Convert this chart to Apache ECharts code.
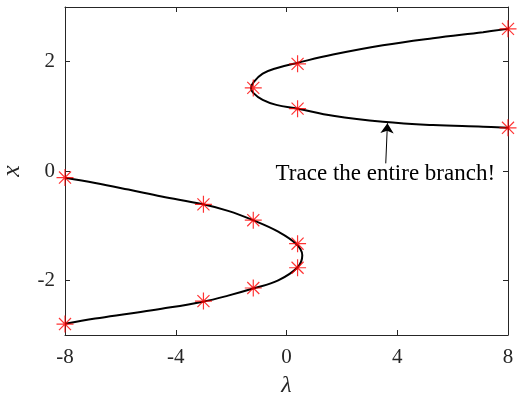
<!DOCTYPE html>
<html>
<head>
<meta charset="utf-8">
<script src="https://cdn.jsdelivr.net/npm/echarts@6/dist/echarts.min.js"></script>
<style>
  html, body { margin: 0; padding: 0; background: #fff; }
  #chart { width: 518px; height: 396px; }
</style>
</head>
<body>
<div id="chart"></div>
<script>
// Axis ticks
const lambdaTicks = [-8, -4, 0, 4, 8];
const xTicks = [-2, 0, 2];

// Solution branches, [lambda, x]
const upperBranch = [
  [8.0, 2.60], [7.10, 2.54], [5.29, 2.43], [3.48, 2.30], [1.68, 2.13],
  [0.41, 1.98], [-0.37, 1.88], [-0.86, 1.78], [-1.18, 1.63], [-1.28, 1.52],
  [-1.20, 1.43], [-0.86, 1.30], [-0.37, 1.21], [0.41, 1.14], [1.68, 1.01],
  [3.48, 0.90], [5.29, 0.84], [7.10, 0.81], [8.0, 0.79]
];
const lowerBranch = [
  [-8.0, -0.125], [-6.91, -0.22], [-5.71, -0.34], [-4.51, -0.465], [-3.01, -0.61],
  [-2.11, -0.73], [-1.21, -0.90], [-0.30, -1.11], [0.36, -1.34], [0.57, -1.54],
  [0.40, -1.76], [-0.30, -2.00], [-1.21, -2.15], [-2.11, -2.28], [-3.01, -2.39],
  [-4.51, -2.52], [-5.71, -2.61], [-6.91, -2.70], [-8.0, -2.795]
];

// Computed continuation points
const upperPoints = [[-1.2, 1.52], [0.4, 1.96], [0.4, 1.14], [8, 2.60], [8, 0.79]];
const lowerPoints = [
  [-8, -0.12], [-3, -0.61], [-1.2, -0.90], [0.4, -1.33],
  [0.4, -1.77], [-1.2, -2.14], [-3, -2.38], [-8, -2.80]
];

// Annotation
const noteText = 'Trace the entire branch!';
const notePos = [3.57, -0.06];
const arrowFrom = [3.585, 0.14];
const arrowTo = [3.646, 0.875];

const AXIS = '#262626';
const SERIF = '"Liberation Serif", "Times New Roman", serif';

// asterisk marker: plus and cross arms as thin bars
const STAR = 'path://M0 46.5L100 46.5L100 53.5L0 53.5Z' +
  'M46.5 0L53.5 0L53.5 100L46.5 100Z' +
  'M17.1 12.1L87.9 82.9L82.9 87.9L12.1 17.1Z' +
  'M87.9 17.1L17.1 87.9L12.1 82.9L82.9 12.1Z';

function baseAxis(extra) {
  return Object.assign({
    type: 'value',
    splitLine: { show: false },
    axisLine: { show: true, onZero: false, lineStyle: { color: AXIS, width: 1 } },
    axisTick: { show: true, inside: true, length: 5, lineStyle: { color: AXIS } }
  }, extra);
}

const chart = echarts.init(document.getElementById('chart'), null, { renderer: 'canvas' });

chart.setOption({
  animation: false,
  backgroundColor: '#fff',
  grid: { left: 65, right: 10, top: 7, bottom: 61, containLabel: false, outerBoundsMode: 'none' },
  xAxis: [
    baseAxis({
      min: -8, max: 8, interval: 4,
      name: 'λ', nameLocation: 'middle', nameGap: 39,
      nameTextStyle: { fontFamily: SERIF, fontStyle: 'italic', fontSize: 24, color: AXIS },
      axisLabel: {
        fontFamily: SERIF, fontSize: 21, color: AXIS, margin: 12,
        formatter: v => lambdaTicks.includes(v) ? String(v) : ''
      }
    }),
    baseAxis({ min: -8, max: 8, interval: 4, position: 'top', axisLabel: { show: false } })
  ],
  yAxis: [
    baseAxis({
      min: -3, max: 3,
      name: 'x', nameLocation: 'middle', nameGap: 40,
      nameTextStyle: { fontFamily: SERIF, fontStyle: 'italic', fontSize: 26, color: AXIS },
      axisTick: { show: true, inside: true, length: 5, lineStyle: { color: AXIS }, customValues: xTicks },
      axisLabel: { fontFamily: SERIF, fontSize: 21, color: AXIS, margin: 10, customValues: xTicks }
    }),
    baseAxis({
      min: -3, max: 3, position: 'right',
      axisTick: { show: true, inside: true, length: 5, lineStyle: { color: AXIS }, customValues: xTicks },
      axisLabel: { show: false }
    })
  ],
  series: [
    {
      type: 'line', data: upperBranch, showSymbol: false, smooth: 0.4,
      lineStyle: { color: '#000', width: 2 }, z: 2,
      markLine: {
        silent: true, animation: false,
        symbol: ['none', 'arrow'], symbolSize: 10,
        lineStyle: { color: '#000', width: 1, type: 'solid' },
        label: { show: false },
        data: [[{ coord: arrowFrom }, { coord: arrowTo }]]
      }
    },
    {
      type: 'line', data: lowerBranch, showSymbol: false, smooth: 0.4,
      lineStyle: { color: '#000', width: 2 }, z: 2
    },
    {
      type: 'scatter', data: upperPoints.concat(lowerPoints), clip: false,
      symbol: STAR, symbolSize: 17,
      itemStyle: { color: '#ff0000' }, z: 3
    }
  ]
});

const p = chart.convertToPixel({ gridIndex: 0 }, notePos);
chart.setOption({
  graphic: [{
    type: 'text', x: p[0], y: p[1], silent: true,
    style: {
      text: noteText, fill: '#000',
      font: '23px ' + SERIF,
      align: 'center', verticalAlign: 'middle'
    }
  }]
});
</script>
</body>
</html>
